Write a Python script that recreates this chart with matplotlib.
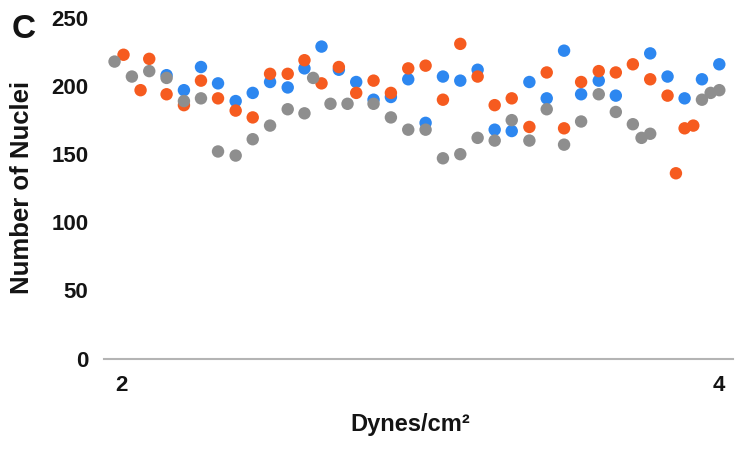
import matplotlib
matplotlib.use("Agg")
import matplotlib.pyplot as plt

plt.rcParams["font.family"] = ["Liberation Sans", "DejaVu Sans"]
plt.rcParams["font.weight"] = "bold"

# Shear stress (dynes/cm^2) and nuclei counts for the three replicate runs
blue_x = [2.152, 2.210, 2.267, 2.324, 2.383, 2.440, 2.498, 2.557, 2.613, 2.670,
          2.728, 2.786, 2.844, 2.902, 2.960, 3.018, 3.076, 3.134, 3.192, 3.249,
          3.306, 3.365, 3.423, 3.481, 3.538, 3.597, 3.654, 3.769, 3.827, 3.884,
          3.942, 4.000]
blue_y = [208, 197, 214, 202, 189, 195, 203, 199, 213, 229,
          212, 203, 190, 192, 205, 173, 207, 204, 212, 168,
          167, 203, 191, 226, 194, 204, 193, 224, 207, 191,
          205, 216]

orange_x = [2.008, 2.065, 2.094, 2.152, 2.210, 2.267, 2.324, 2.383, 2.440, 2.498,
            2.557, 2.613, 2.670, 2.728, 2.786, 2.844, 2.902, 2.960, 3.018, 3.076,
            3.134, 3.192, 3.249, 3.306, 3.365, 3.423, 3.481, 3.538, 3.597, 3.654,
            3.711, 3.769, 3.827, 3.855, 3.884, 3.913]
orange_y = [223, 197, 220, 194, 186, 204, 191, 182, 177, 209,
            209, 219, 202, 214, 195, 204, 195, 213, 215, 190,
            231, 207, 186, 191, 170, 210, 169, 203, 211, 210,
            216, 205, 193, 136, 169, 171]

gray_x = [1.978, 2.036, 2.094, 2.152, 2.210, 2.267, 2.324, 2.383, 2.440, 2.498,
          2.557, 2.613, 2.642, 2.700, 2.757, 2.844, 2.902, 2.960, 3.018, 3.076,
          3.134, 3.192, 3.249, 3.306, 3.365, 3.423, 3.481, 3.538, 3.597, 3.654,
          3.711, 3.740, 3.769, 3.942, 3.971, 4.000]
gray_y = [218, 207, 211, 206, 189, 191, 152, 149, 161, 171,
          183, 180, 206, 187, 187, 187, 177, 168, 168, 147,
          150, 162, 160, 175, 160, 183, 157, 174, 194, 181,
          172, 162, 165, 190, 195, 197]

x_ticks = [2, 4]
y_ticks = [0, 50, 100, 150, 200, 250]

BLUE = "#2D87F0"
ORANGE = "#F65B1F"
GRAY = "#8E8E8E"
TEXT = "#141414"

fig = plt.figure(figsize=(7.36, 4.54), dpi=100)
ax = fig.add_axes([0.141, 0.2103, 0.855, 0.7501])

ms = 80
ax.scatter(blue_x, blue_y, s=ms, color=BLUE, edgecolors="none", zorder=3)
ax.scatter(orange_x, orange_y, s=ms, color=ORANGE, edgecolors="none", zorder=4)
ax.scatter(gray_x, gray_y, s=ms, color=GRAY, edgecolors="none", zorder=5)

ax.set_xlim(1.942, 4.046)
ax.set_ylim(0, 250)
ax.set_xticks(x_ticks)
ax.set_xticklabels([str(t) for t in x_ticks])
ax.set_yticks(y_ticks)
ax.set_yticklabels([str(t) for t in y_ticks])

for side in ("top", "right", "left"):
    ax.spines[side].set_visible(False)
ax.spines["bottom"].set_color("#B4B4B4")
ax.spines["bottom"].set_linewidth(1.5)
ax.spines["bottom"].set_zorder(2)

ax.tick_params(axis="both", length=0, labelsize=16, labelcolor=TEXT)
ax.tick_params(axis="y", pad=11)
ax.tick_params(axis="x", pad=12)
for lbl in ax.get_xticklabels() + ax.get_yticklabels():
    lbl.set_fontweight("bold")

# Axis titles placed in figure coordinates
fig.text(22 / 736, 1 - 187 / 454, "Number of Nuclei", rotation=90, fontsize=18.5,
         fontweight="bold", color=TEXT, ha="center", va="center")
fig.text(410.5 / 736, 1 - 424 / 454, "Dynes/cm²", fontsize=17, fontweight="bold",
         color=TEXT, ha="center", va="center")

# Panel letter
fig.text(12 / 736, 1 - 38 / 454, "C", fontsize=24, fontweight="bold",
         color=TEXT, ha="left", va="baseline")

fig.savefig("out.png", dpi=100, facecolor="white")
